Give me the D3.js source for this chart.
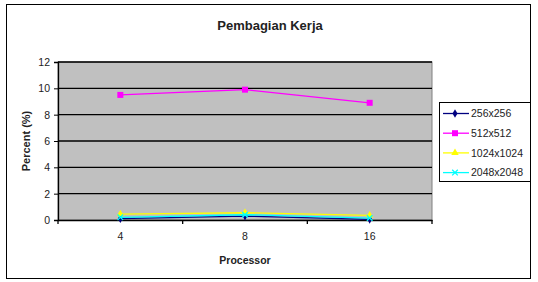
<!DOCTYPE html>
<html lang="en">
<head>
<meta charset="UTF-8">
<title>Pembagian Kerja</title>
<script src="https://cdn.jsdelivr.net/npm/d3@7"></script>
<style>
  body { margin: 0; background: #fff; }
  text { font-family: "Liberation Sans", Arial, sans-serif; fill: #222; }
</style>
</head>
<body>
<svg id="chart"></svg>
<script>
// data
var processors = ["4", "8", "16"];
var seriesNames = ["256x256", "512x512", "1024x1024", "2048x2048"];
var s256 = [0.1, 0.3, 0.05];
var s512 = [9.5, 9.9, 8.9];
var s1024 = [0.45, 0.55, 0.35];
var s2048 = [0.2, 0.4, 0.15];
var yTicks = [0, 2, 4, 6, 8, 10, 12];
var colors = ["#000080", "#ff00ff", "#ffff00", "#00ffff"];

var width = 538, height = 282;
var margin = { left: 58, right: 106, top: 62, bottom: 62 };

var svg = d3.select("#chart").attr("width", width).attr("height", height);

// outer border
svg.append("rect")
    .attr("x", 6.5).attr("y", 4.5)
    .attr("width", 524).attr("height", 274)
    .attr("fill", "#fff").attr("stroke", "#000").attr("stroke-width", 1);

var x = d3.scaleBand().domain(processors)
    .range([margin.left, width - margin.right]);
var y = d3.scaleLinear().domain([0, 12])
    .range([height - margin.bottom, margin.top]);

// plot area
svg.append("rect")
    .attr("x", x.range()[0]).attr("y", y(12))
    .attr("width", x.range()[1] - x.range()[0])
    .attr("height", y(0) - y(12))
    .attr("fill", "#c0c0c0")
    .attr("stroke", "#808080");

// gridlines
svg.append("g").selectAll("line")
    .data(yTicks.filter(d => d > 0))
    .enter().append("line")
    .attr("x1", x.range()[0]).attr("x2", x.range()[1])
    .attr("y1", d => y(d)).attr("y2", d => y(d))
    .attr("stroke", "#000").attr("stroke-width", 1.3);

// y axis
var yAxis = svg.append("g")
    .attr("transform", "translate(" + margin.left + ",0)")
    .call(d3.axisLeft(y).tickValues(yTicks).tickSize(4).tickPadding(4));
yAxis.select(".domain").attr("stroke", "#000").attr("stroke-width", 1.3);
yAxis.selectAll("text").style("font-size", "10.5px");

// x axis
var xAxis = svg.append("g")
    .attr("transform", "translate(0," + y(0) + ")")
    .call(d3.axisBottom(x).tickSize(0).tickPadding(13));
xAxis.select(".domain").attr("stroke", "#000").attr("stroke-width", 1.3);
xAxis.selectAll("text").style("font-size", "10.5px");

// x ticks between categories
var bounds = processors.map(p => x(p)).concat([x.range()[1]]);
svg.append("g").selectAll("line")
    .data(bounds)
    .enter().append("line")
    .attr("x1", d => d).attr("x2", d => d)
    .attr("y1", y(0)).attr("y2", y(0) + 4)
    .attr("stroke", "#000").attr("stroke-width", 1.3);

// series
var allSeries = [s256, s512, s1024, s2048];
var line = d3.line()
    .x((d, i) => x(processors[i]) + x.bandwidth() / 2)
    .y(d => y(d));

function drawMarker(g, idx, cx, cy) {
    var c = colors[idx];
    if (idx === 0) {
        g.append("path").attr("d", d3.symbol(d3.symbolDiamond, 22)())
            .attr("transform", "translate(" + cx + "," + cy + ")").attr("fill", c);
    } else if (idx === 1) {
        g.append("rect").attr("x", cx - 3).attr("y", cy - 3)
            .attr("width", 6).attr("height", 6).attr("fill", c);
    } else if (idx === 2) {
        g.append("path").attr("d", d3.symbol(d3.symbolTriangle, 24)())
            .attr("transform", "translate(" + cx + "," + cy + ")").attr("fill", c);
    } else {
        g.append("path").attr("d", d3.symbol(d3.symbolTimes, 22)())
            .attr("transform", "translate(" + cx + "," + cy + ")")
            .attr("fill", "none").attr("stroke", c).attr("stroke-width", 1.3);
    }
}

allSeries.forEach(function (vals, idx) {
    var g = svg.append("g");
    g.append("path").datum(vals)
        .attr("d", line)
        .attr("fill", "none")
        .attr("stroke", colors[idx])
        .attr("stroke-width", 1.3);
    vals.forEach(function (v, i) {
        drawMarker(g, idx, x(processors[i]) + x.bandwidth() / 2, y(v));
    });
});

// title
svg.append("text")
    .attr("x", 270).attr("y", 30)
    .attr("text-anchor", "middle")
    .style("font-size", "13px").style("font-weight", "bold")
    .text("Pembagian Kerja");

// axis titles
svg.append("text")
    .attr("x", (x.range()[0] + x.range()[1]) / 2).attr("y", 264)
    .attr("text-anchor", "middle")
    .style("font-size", "10.5px").style("font-weight", "bold")
    .text("Processor");

svg.append("text")
    .attr("transform", "translate(30," + ((y(0) + y(12)) / 2) + ") rotate(-90)")
    .attr("text-anchor", "middle")
    .style("font-size", "11px").style("font-weight", "bold")
    .text("Percent (%)");

// legend
var legend = svg.append("g").attr("transform", "translate(439,102)");
legend.append("rect")
    .attr("x", 0.5).attr("y", 0.5)
    .attr("width", 91).attr("height", 79)
    .attr("fill", "#fff").attr("stroke", "#000");
seriesNames.forEach(function (name, idx) {
    var ly = 11.5 + idx * 19.7;
    legend.append("line")
        .attr("x1", 4).attr("x2", 30)
        .attr("y1", ly).attr("y2", ly)
        .attr("stroke", colors[idx]).attr("stroke-width", 1.3);
    drawMarker(legend, idx, 16, ly);
    legend.append("text")
        .attr("x", 32).attr("y", ly + 3.8)
        .style("font-size", "10.5px")
        .text(name);
});
</script>
</body>
</html>
